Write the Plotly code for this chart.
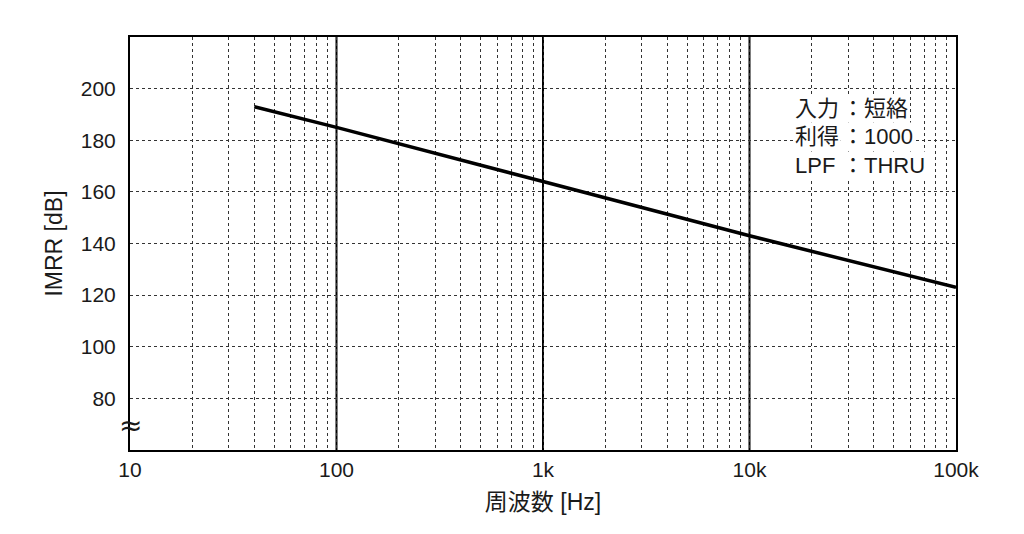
import plotly.graph_objects as go

# Data
freq_hz = [40, 100, 1000, 10000, 100000]
imrr_db = [193, 185, 164, 143, 123]

decade_vals = [10, 100, 1000, 10000, 100000]
decade_labels = ["10", "100", "1k", "10k", "100k"]
y_ticks = [80, 100, 120, 140, 160, 180, 200]
note_labels = ["入力", "利得", "LPF"]
note_values = ["：短絡", "：1000", "：THRU"]

FONT = "Liberation Sans, Arial, Noto Sans CJK JP, sans-serif"
TXT = "#1a1a1a"

# all minor/major positions for the log grid
x_tickvals, x_ticktext = [], []
for d in decade_vals[:-1]:
    for m in range(1, 10):
        x_tickvals.append(d * m)
        x_ticktext.append(decade_labels[decade_vals.index(d)] if m == 1 else "")
x_tickvals.append(decade_vals[-1])
x_ticktext.append(decade_labels[-1])

fig = go.Figure()
fig.add_trace(go.Scatter(x=freq_hz, y=imrr_db, mode="lines",
                         line=dict(color="black", width=3.5), showlegend=False,
                         hoverinfo="skip"))

# solid decade lines
for d in decade_vals[1:-1]:
    fig.add_shape(type="line", xref="x", yref="paper", x0=d, x1=d, y0=0, y1=1,
                  line=dict(color="black", width=2), layer="below")

fig.update_xaxes(type="log", range=[1, 5], tickvals=x_tickvals, ticktext=x_ticktext,
                 showgrid=True, gridcolor="#333", griddash="dot", gridwidth=1,
                 showline=True, linecolor="black", linewidth=2, mirror=True,
                 ticks="", ticklabelstandoff=0,
                 tickfont=dict(family=FONT, size=21, color=TXT),
                 title=dict(text="周波数 [Hz]", font=dict(family=FONT, size=23, color=TXT), standoff=14),
                 zeroline=False)
fig.update_yaxes(range=[60, 220], tickvals=y_ticks, showgrid=True, gridcolor="#333",
                 griddash="dot", gridwidth=1,
                 showline=True, linecolor="black", linewidth=2, mirror=True,
                 ticks="", ticklabelstandoff=8,
                 tickfont=dict(family=FONT, size=21, color=TXT),
                 title=dict(text="IMRR [dB]", font=dict(family=FONT, size=23, color=TXT), standoff=12),
                 zeroline=False)

# axis break mark
fig.add_annotation(xref="paper", yref="y", x=0, y=69.5, text="≈", showarrow=False,
                   xanchor="center", yanchor="middle",
                   font=dict(family="DejaVu Sans", size=28, color=TXT))

# condition note
ys = [0.828, 0.758, 0.690]
for lab, val, yy in zip(note_labels, note_values, ys):
    fig.add_annotation(xref="paper", yref="paper", x=0.803, y=yy,
                       text=lab, showarrow=False, xanchor="left", yanchor="middle",
                       bgcolor="white", borderpad=1,
                       font=dict(family=FONT, size=22, color=TXT))
    fig.add_annotation(xref="paper", yref="paper", x=0.860, y=yy,
                       text=val, showarrow=False, xanchor="left", yanchor="middle",
                       bgcolor="white", borderpad=1,
                       font=dict(family=FONT, size=22, color=TXT))

# page body adds an 8px margin; compensate so the plot area lands at 130..956 x 37..450
fig.update_layout(width=1008, height=518, margin=dict(l=122, r=60, t=29, b=76),
                  plot_bgcolor="white", paper_bgcolor="white")
fig.write_html("out.html")
